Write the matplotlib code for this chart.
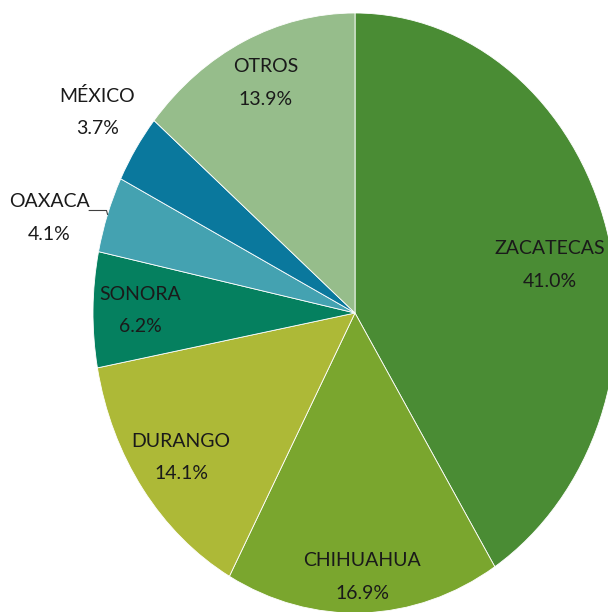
import matplotlib.pyplot as plt
import numpy as np

# === Data ===
estados = ["ZACATECAS", "CHIHUAHUA", "DURANGO", "SONORA", "OAXACA", "MÉXICO", "OTROS"]
porcentajes = [41.0, 16.9, 14.1, 6.2, 4.1, 3.7, 13.9]
colores = ["#4a8c34", "#7aa62e", "#adb937", "#05805f", "#44a2b1", "#0a789d", "#96bd8b"]

# label placement: distance from centre (radius = 1) and angle tweak in degrees
dist_etiqueta = [0.76, 0.88, 0.82, 0.82, 1.21, 1.19, 0.84]
giro_etiqueta = [-4, 0, 0, 0, 4, -1, -1]
linea_guia = [False, False, False, False, True, False, False]

plt.rcParams["font.family"] = ["Lato", "DejaVu Sans"]

# === Plot ===
fig = plt.figure(figsize=(6.08, 6.12), dpi=100)
# stretched (elliptical) pie like the original
ax = fig.add_axes([93 / 608, -1 / 612, 524 / 608, 600 / 612])
wedges, _ = ax.pie(porcentajes, colors=colores, startangle=90, counterclock=False,
                   wedgeprops=dict(edgecolor="white", linewidth=0.6))
ax.set_aspect("auto")
ax.set_xlim(-1, 1)
ax.set_ylim(-1, 1)
ax.axis("off")

for w, nombre, pct, d, g, guia in zip(wedges, estados, porcentajes,
                                      dist_etiqueta, giro_etiqueta, linea_guia):
    mid = np.deg2rad((w.theta1 + w.theta2) / 2)
    ang = mid + np.deg2rad(g)
    x, y = d * np.cos(ang), d * np.sin(ang)
    ax.text(x, y, f"{nombre}\n{pct:.1f}%", ha="center", va="center",
            fontsize=14, linespacing=2.1, color="#1a1a1a", clip_on=False)
    if guia:
        ex, ey = np.cos(mid), np.sin(mid)
        ax.plot([ex, ex - 0.004, ex - 0.07], [ey, ey + 0.013, ey + 0.013],
                color="#404040", lw=0.8, clip_on=False)

plt.savefig("out.png", dpi=100)
